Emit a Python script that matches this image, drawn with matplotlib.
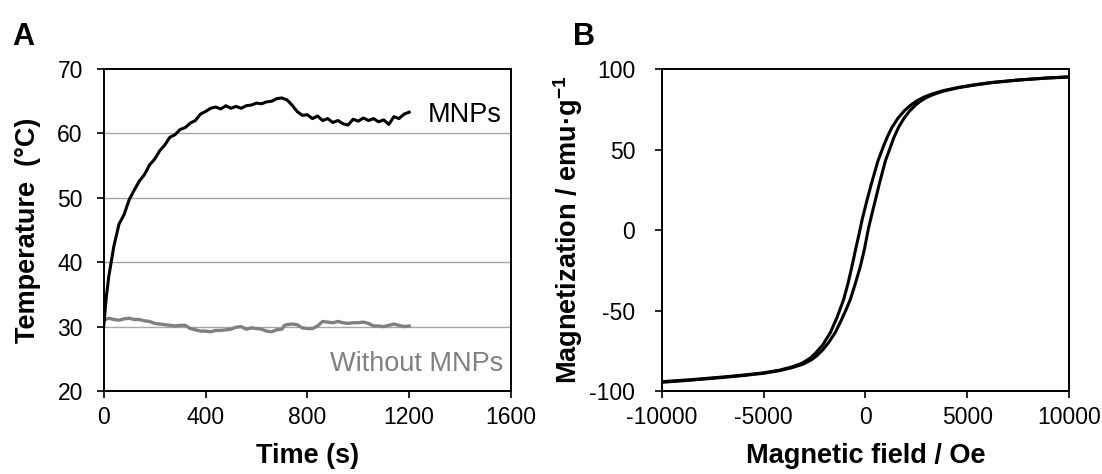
import matplotlib
matplotlib.use("Agg")
import matplotlib.pyplot as plt

plt.rcParams["font.family"] = ["Liberation Sans", "DejaVu Sans"]
plt.rcParams["mathtext.default"] = "regular"
plt.rcParams["axes.unicode_minus"] = False

# --- Panel A: heating curves (time in s, temperature in degC) ---
tiempo_mnps = [0, 10, 20, 40, 60, 80, 100, 120, 140, 160, 180, 200, 220, 240, 260,
               280, 300, 320, 340, 360, 380, 400, 420, 440, 460, 480, 500, 520,
               540, 560, 580, 600, 620, 640, 660, 680, 700, 720, 740, 760, 780,
               800, 820, 840, 860, 880, 900, 920, 940, 960, 980, 1000, 1020,
               1040, 1060, 1080, 1100, 1120, 1140, 1160, 1180, 1200]
temp_mnps = [30.0, 34.5, 37.8, 42.5, 45.9, 47.4, 49.7, 51.2, 52.6, 53.6, 55.1,
             56.0, 57.3, 58.2, 59.4, 59.8, 60.6, 60.9, 61.6, 62.0, 63.0, 63.4,
             63.9, 64.1, 63.8, 64.3, 63.9, 64.2, 63.9, 64.3, 64.4, 64.7, 64.6,
             64.9, 65.0, 65.4, 65.5, 65.2, 64.4, 63.4, 62.8, 62.9, 62.3, 62.7,
             62.0, 62.3, 61.7, 62.0, 61.5, 61.3, 62.2, 61.9, 62.4, 62.0, 62.3,
             61.8, 62.1, 61.4, 62.6, 62.3, 63.0, 63.3]

tiempo_control = [0, 20, 40, 60, 80, 100, 120, 140, 160, 180, 200, 220, 240, 260,
                  280, 300, 320, 340, 360, 380, 400, 420, 440, 460, 480, 500, 520,
                  540, 560, 580, 600, 620, 640, 660, 680, 700, 710, 720, 740, 760,
                  780, 800, 820, 840, 860, 880, 900, 920, 940, 960, 980, 1000,
                  1020, 1040, 1060, 1080, 1100, 1120, 1140, 1160, 1180, 1200]
temp_control = [31.0, 31.3, 31.1, 31.0, 31.2, 31.3, 31.1, 31.1, 30.9, 30.8, 30.5,
                30.4, 30.3, 30.2, 30.1, 30.2, 30.2, 29.7, 29.5, 29.3, 29.3, 29.2,
                29.4, 29.4, 29.5, 29.6, 29.9, 30.0, 29.6, 29.8, 29.7, 29.6, 29.3,
                29.2, 29.5, 29.6, 30.2, 30.3, 30.4, 30.3, 29.8, 29.7, 29.7, 30.1,
                30.8, 30.7, 30.6, 30.8, 30.6, 30.5, 30.6, 30.6, 30.7, 30.5, 30.1,
                30.1, 30.0, 30.2, 30.4, 30.2, 30.0, 30.1]

# --- Panel B: hysteresis loop (field in Oe, magnetization in emu/g) ---
# rama que baja desde +10000 Oe (queda a la izquierda)
campo_bajada = [-10000, -8500, -7000, -6000, -5000, -4200, -3600, -3100, -2700,
                -2450, -2100, -1721, -1400, -1067, -850, -659, -480, -329, -150,
                79, 300, 619, 900, 1100, 1308, 1600, 1932, 2250, 2537, 2900,
                3274, 3800, 4587, 5400, 6224, 7500, 8850, 10000]
mag_bajada = [-94.2, -92.9, -91.3, -90.1, -88.7, -87.0, -85.0, -82.7, -79.5,
              -76.5, -71.5, -63.7, -54.5, -43.1, -33.0, -22.5, -12.0, -3.5, 7.0,
              18.5, 29.0, 43.0, 52.5, 58.5, 63.8, 69.5, 74.3, 77.8, 80.3, 82.7,
              84.5, 86.5, 88.6, 90.3, 91.7, 93.2, 94.4, 95.2]

# rama que sube desde -10000 Oe (queda a la derecha)
campo_subida = [-10000, -8500, -7000, -6000, -5000, -4200, -3600, -3100, -2700,
                -2400, -2100, -1800, -1475, -1200, -950, -737, -500, -246, -50,
                150, 320, 492, 700, 983, 1200, 1400, 1637, 1900, 2178, 2450,
                2700, 3000, 3300, 3800, 4600, 5400, 6200, 7500, 8850, 10000]
mag_subida = [-94.6, -93.2, -91.6, -90.4, -89.0, -87.3, -85.5, -83.5, -81.0,
              -78.3, -74.5, -69.8, -63.5, -56.5, -49.5, -43.0, -33.5, -22.5, -12.0,
              1.0, 10.0, 18.7, 29.5, 43.0, 50.5, 57.5, 64.0, 69.5, 74.0, 77.5,
              80.0, 82.3, 84.0, 86.2, 88.5, 90.1, 91.5, 93.1, 94.3, 95.0]

GRIS = "#808080"
TICK_FS = 16.5
LABEL_FS = 19.5

fig = plt.figure(figsize=(11.02, 4.74), dpi=100)
ax_a = fig.add_axes([0.0941, 0.1751, 0.3696, 0.6793])
ax_b = fig.add_axes([0.6005, 0.1751, 0.3696, 0.6793])

for ax in (ax_a, ax_b):
    for spine in ax.spines.values():
        spine.set_linewidth(1.4)
        spine.set_color("black")
    ax.tick_params(direction="out", length=5, width=1.2, labelsize=TICK_FS)

# panel A
for nivel in [30, 40, 50, 60]:
    ax_a.axhline(nivel, color="#a6a6a6", linewidth=1.0, zorder=0)
ax_a.plot(tiempo_control, temp_control, color=GRIS, linewidth=2.4)
ax_a.plot(tiempo_mnps, temp_mnps, color="black", linewidth=2.2)
ax_a.set_xlim(0, 1600)
ax_a.set_ylim(20, 70)
ax_a.set_xticks([0, 400, 800, 1200, 1600])
ax_a.set_yticks([20, 30, 40, 50, 60, 70])
ax_a.tick_params(axis="y", pad=10)
ax_a.tick_params(axis="x", pad=6)
ax_a.set_xlabel("Time (s)", fontsize=LABEL_FS, fontweight="bold", labelpad=10)
ax_a.set_ylabel("Temperature  (°C)", fontsize=LABEL_FS, fontweight="bold", labelpad=12)
ax_a.text(1272, 61.7, "MNPs", fontsize=LABEL_FS, ha="left", va="baseline")
ax_a.text(889, 23.1, "Without MNPs", fontsize=LABEL_FS, color=GRIS,
          ha="left", va="baseline")

# panel B
ax_b.plot(campo_bajada, mag_bajada, color="black", linewidth=2.2)
ax_b.plot(campo_subida, mag_subida, color="black", linewidth=2.2)
ax_b.set_xlim(-10000, 10000)
ax_b.set_ylim(-100, 100)
ax_b.set_xticks([-10000, -5000, 0, 5000, 10000])
ax_b.set_yticks([-100, -50, 0, 50, 100])
ax_b.tick_params(axis="y", pad=14)
ax_b.tick_params(axis="x", pad=6)
ax_b.set_xlabel("Magnetic field / Oe", fontsize=LABEL_FS, fontweight="bold", labelpad=10)
ax_b.set_ylabel("Magnetization / emu·g$^{-1}$", fontsize=LABEL_FS,
                fontweight="bold", labelpad=3)

fig.text(12 / 1102, 1 - 45 / 474, "A", fontsize=22, fontweight="bold",
         ha="left", va="baseline")
fig.text(573 / 1102, 1 - 45 / 474, "B", fontsize=22, fontweight="bold",
         ha="left", va="baseline")

fig.savefig("out.png", dpi=100)
